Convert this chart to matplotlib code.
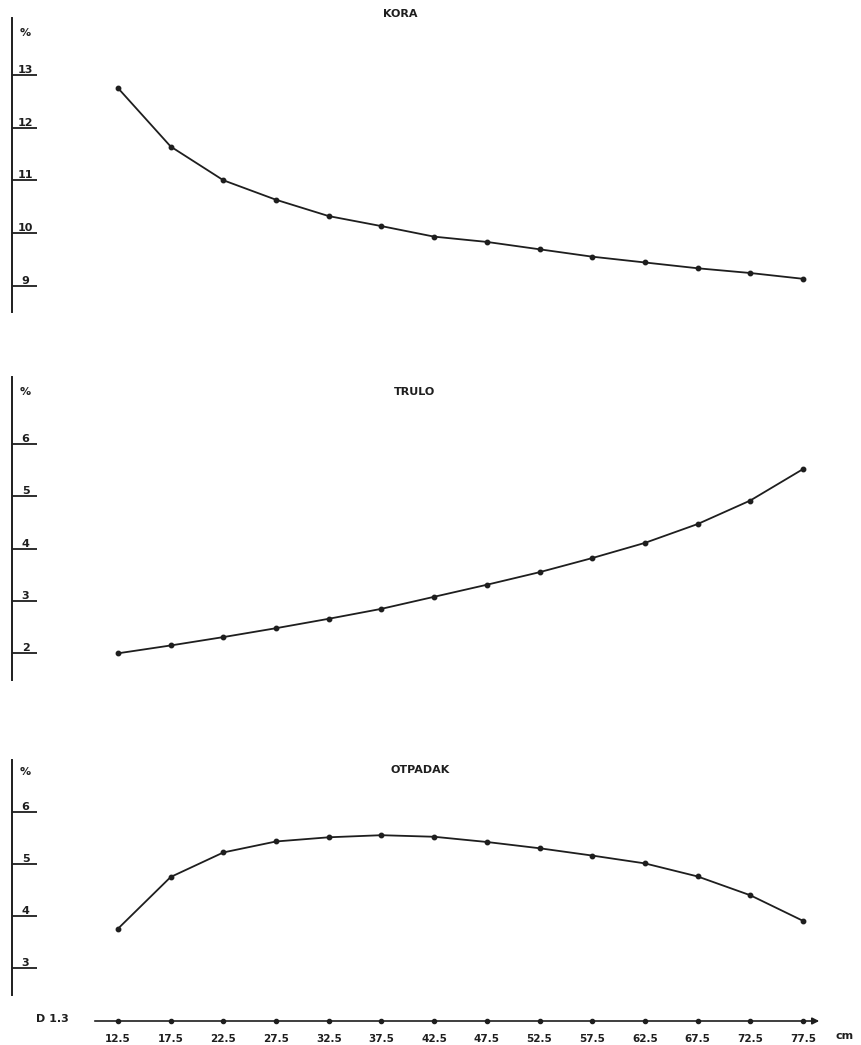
import numpy as np
import matplotlib.pyplot as plt

# diameter classes D1.3 (cm)
diam = [12.5, 17.5, 22.5, 27.5, 32.5, 37.5, 42.5, 47.5, 52.5, 57.5, 62.5, 67.5, 72.5, 77.5]
diam_labels = ["12.5", "17.5", "22.5", "27.5", "32.5", "37.5", "42.5", "47.5",
               "52.5", "57.5", "62.5", "67.5", "72.5", "77.5"]

# percentages
kora = [12.75, 11.64, 11.0, 10.63, 10.32, 10.13, 9.93, 9.83, 9.69, 9.55, 9.44, 9.33, 9.24, 9.13]
trulo = [2.0, 2.15, 2.31, 2.48, 2.66, 2.85, 3.08, 3.31, 3.55, 3.82, 4.11, 4.47, 4.92, 5.52]
otpadak = [3.76, 4.75, 5.22, 5.43, 5.51, 5.55, 5.52, 5.42, 5.30, 5.16, 5.01, 4.76, 4.40, 3.91]

kora_ticks = [9, 10, 11, 12, 13]
trulo_ticks = [2, 3, 4, 5, 6]
otpadak_ticks = [3, 4, 5, 6]

W, H = 861, 1045
ink = '#1e1e1e'
plt.rcParams['font.family'] = ['DejaVu Sans']

fig = plt.figure(figsize=(W / 100, H / 100), dpi=100)
fig.patch.set_facecolor('white')

# x scale: 12.5 -> px 118, 77.5 -> px 803
px_per_unit = (803 - 118) / (77.5 - 12.5)
x_left = 12.5 - (118 - 12) / px_per_unit
x_right = 77.5 + (W - 803) / px_per_unit


def panel(top_px, bot_px, y_top, y_bot, values, ticks, title, title_x, title_y):
    ax = fig.add_axes([12 / W, 1 - bot_px / H, (W - 12) / W, (bot_px - top_px) / H])
    ax.set_xlim(x_left, x_right)
    ax.set_ylim(y_bot, y_top)
    ax.patch.set_alpha(0)
    for s in ['top', 'right', 'bottom']:
        ax.spines[s].set_visible(False)
    ax.spines['left'].set_linewidth(1.4)
    ax.spines['left'].set_color(ink)
    ax.set_xticks([])
    ax.set_yticks(ticks)
    ax.set_yticklabels([])
    ax.tick_params(axis='y', direction='in', length=18, width=1.3, color=ink)
    trans = ax.get_yaxis_transform()
    for t in ticks:
        ax.text(0.016, t, str(t), transform=trans, ha='center', va='bottom',
                fontsize=8, fontweight='bold', color=ink)
    ax.text(0.016, 0.95, '%', transform=ax.transAxes, ha='center', va='center',
            fontsize=8, fontweight='bold', color=ink)
    ax.plot(diam, values, color=ink, lw=1.3, marker='o', ms=3.2, clip_on=False)
    fig.text(title_x / W, 1 - title_y / H, title, ha='center', va='center',
             fontsize=8, fontweight='bold', color=ink)
    return ax


panel(18, 312, 14.08, 8.5, kora, kora_ticks, 'KORA', 400, 14)
panel(377, 680, 7.28, 1.49, trulo, trulo_ticks, 'TRULO', 414, 392)
panel(760, 995, 6.99, 2.49, otpadak, otpadak_ticks, 'OTPADAK', 420, 770)

# bottom diameter axis with arrow
axx = fig.add_axes([12 / W, 1 - 1021 / H, (W - 12) / W, 0.001])
axx.set_xlim(x_left, x_right)
axx.set_ylim(0, 1)
axx.patch.set_alpha(0)
for s in axx.spines.values():
    s.set_visible(False)
axx.set_yticks([])
axx.set_xticks(diam)
axx.set_xticklabels(diam_labels, fontsize=7.5, fontweight='bold', color=ink)
axx.tick_params(axis='x', length=0, pad=9)
x0 = 12.5 - (118 - 92) / px_per_unit
x1 = 77.5 + (822 - 803) / px_per_unit
axx.annotate('', xy=(x1, 0), xytext=(x0, 0),
             arrowprops=dict(arrowstyle='-|>', color=ink, lw=1.2, mutation_scale=10),
             annotation_clip=False)
axx.plot(diam, np.zeros(len(diam)), 'o', color=ink, ms=3, clip_on=False)
fig.text(52 / W, 1 - 1019 / H, 'D 1.3', ha='center', va='center',
         fontsize=8, fontweight='bold', color=ink)
fig.text(845 / W, 1 - 1036 / H, 'cm', ha='center', va='center',
         fontsize=8, fontweight='bold', color=ink)

fig.savefig('out.png', dpi=100, facecolor='white')
